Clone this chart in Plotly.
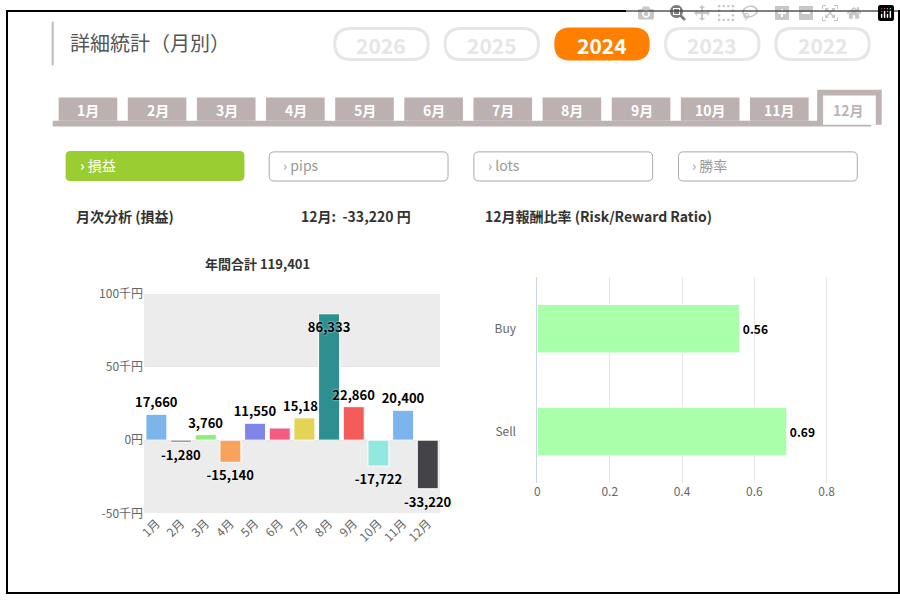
import plotly.graph_objects as go

# data
months = ["1月", "2月", "3月", "4月", "5月", "6月", "7月", "8月", "9月", "10月", "11月", "12月"]
profit = [17660, -1280, 3760, -15140, 11550, 8300, 15180, 86333, 22860, -17722, 20400, -33220]
profit_labels = ["17,660", "-1,280", "3,760", "-15,140", "11,550", "", "15,180", "86,333", "22,860", "-17,722", "20,400", "-33,220"]
bar_colors = ["#7cb5ec", "#434348", "#90ed7d", "#f7a35c", "#8085e9", "#f15c80",
              "#e4d354", "#2b908f", "#f45b5b", "#91e8e1", "#7cb5ec", "#434348"]
rr_sides = ["Sell", "Buy"]
rr_values = [0.69, 0.56]
years = ["2026", "2025", "2024", "2023", "2022"]
active_year = "2024"
active_month = "12月"

W, H = 900, 601
FONT = "Noto Sans CJK JP"


def px(x):
    return x / W


def py(y):
    return 1 - y / H


def rrect(x0, y0, x1, y1, r):
    pts = (f"M {px(x0 + r)} {py(y0)} L {px(x1 - r)} {py(y0)} Q {px(x1)} {py(y0)} {px(x1)} {py(y0 + r)} "
           f"L {px(x1)} {py(y1 - r)} Q {px(x1)} {py(y1)} {px(x1 - r)} {py(y1)} "
           f"L {px(x0 + r)} {py(y1)} Q {px(x0)} {py(y1)} {px(x0)} {py(y1 - r)} "
           f"L {px(x0)} {py(y0 + r)} Q {px(x0)} {py(y0)} {px(x0 + r)} {py(y0)} Z")
    return pts


shapes = []
annotations = []


def text(x, y, s, size=13, color="#333", bold=False, xanchor="left"):
    annotations.append(dict(x=px(x), y=py(y), xref="paper", yref="paper", text=f"<b>{s}</b>" if bold else s,
                            showarrow=False, xanchor=xanchor, yanchor="middle",
                            font=dict(size=size, color=color, family=FONT)))


def box(x0, y0, x1, y1, fill, line=None, lw=1, r=0):
    if r:
        shapes.append(dict(type="path", path=rrect(x0, y0, x1, y1, r), xref="paper", yref="paper",
                           fillcolor=fill, line=dict(color=line or fill, width=lw if line else 0), layer="below"))
    else:
        shapes.append(dict(type="rect", x0=px(x0), x1=px(x1), y0=py(y0), y1=py(y1), xref="paper", yref="paper",
                           fillcolor=fill, line=dict(color=line or fill, width=lw if line else 0), layer="below"))


# outer frame
box(1, 1, 899, 600, "rgba(0,0,0,0)", "#000", 2)

# title
box(46, 12, 48, 57, "#bbbbbb")
text(62, 33, "詳細統計（月別）", 20, "#555")

# year pills
for i, yr in enumerate(years):
    cx = 378 + i * 111
    if yr == active_year:
        box(cx - 48, 18, cx + 48, 52, "#ff8000", r=16)
        text(cx, 36, yr, 21, "white", True, "center")
    else:
        box(cx - 47, 19, cx + 47, 51, "white", "#e6e6e6", 3, r=16)
        text(cx, 36, yr, 21, "#e6e6e6", True, "center")

# month tabs
box(47, 114, 871, 120, "#bdb3b3")
for i, m in enumerate(months):
    x0 = 53 + i * 69.6
    if m == active_month:
        box(x0 - 2, 82, x0 + 63, 118, "#bdb3b3")
        box(x0 + 4, 88, x0 + 57, 118, "white")
        text(x0 + 30, 103, m, 14, "#bdb3b3", True, "center")
    else:
        box(x0, 90, x0 + 59, 114, "#bcb0b0")
        text(x0 + 30, 103, m, 14, "white", True, "center")

# option buttons
btns = [("› 損益", 60, True), ("› pips", 265, False), ("› lots", 471, False), ("› 勝率", 677, False)]
for label, x0, on in btns:
    if on:
        box(x0, 145, x0 + 180, 176, "#9acd32", r=5)
        text(x0 + 12, 160, f"<b>›</b> 損益", 14, "white")
    else:
        box(x0, 146, x0 + 180, 176, "white", "#aaaaaa", 1, r=5)
        text(x0 + 12, 160, label, 14, "#999")

# headings
text(68, 212, "月次分析 (損益)", 14, "#333", True)
text(295, 212, "12月:  -33,220 円", 14, "#333", True)
text(480, 212, "12月報酬比率 (Risk/Reward Ratio)", 14, "#333", True)
text(253, 261, "年間合計 119,401", 13, "#333", True, "center")

# alternating plot bands
shapes.append(dict(type="rect", xref="x domain", yref="y", x0=0, x1=1, y0=50000, y1=100000,
                   fillcolor="#ececec", line_width=0, layer="below"))
shapes.append(dict(type="rect", xref="x domain", yref="y", x0=0, x1=1, y0=-50000, y1=0,
                   fillcolor="#ececec", line_width=0, layer="below"))

fig = go.Figure()
fig.add_trace(go.Bar(
    x=months, y=profit, marker=dict(color=bar_colors, line=dict(color="white", width=1)),
    text=profit_labels, textposition=["inside" if m == "8月" else "outside" for m in months],
    insidetextanchor="end", constraintext="none", cliponaxis=False, textangle=0,
    textfont=dict(size=13, color="black", family=FONT, weight="bold", shadow="0px 0px 2px white"),
    xaxis="x", yaxis="y", width=0.85, showlegend=False))

fig.add_trace(go.Bar(
    x=rr_values, y=rr_sides, orientation="h",
    marker=dict(color="#aaffaa", line=dict(color="white", width=1)), width=0.47,
    text=[f"{v:.2f}" for v in rr_values], textposition="outside", cliponaxis=False,
    textfont=dict(size=12, color="black", family=FONT, weight="bold"),
    xaxis="x2", yaxis="y2", showlegend=False))

fig.update_layout(
    width=W, height=H, margin=dict(l=0, r=0, t=0, b=0),
    paper_bgcolor="white", plot_bgcolor="rgba(0,0,0,0)",
    font=dict(family=FONT, color="#666"),
    shapes=shapes, annotations=annotations, bargap=0.15,
    xaxis=dict(domain=[px(139), px(437)], anchor="y", tickangle=-45, tickfont=dict(size=12, color="#666"),
               showline=False, ticks=""),
    yaxis=dict(domain=[py(518), py(292)], range=[-50000, 100000], tickvals=[-50000, 0, 50000, 100000],
               ticktext=["-50千円", "0円", "50千円", "100千円"], tickfont=dict(size=12, color="#666"),
               showgrid=True, gridcolor="#e6e6e6", zeroline=False, anchor="x"),
    xaxis2=dict(domain=[px(535), px(837)], range=[0, 0.83], tickvals=[0, 0.2, 0.4, 0.6, 0.8],
                tickfont=dict(size=12, color="#666"), showgrid=True, gridcolor="#e6e6e6", zeroline=False,
                anchor="y2"),
    yaxis2=dict(domain=[py(487), py(275)], tickfont=dict(size=12, color="#666"), anchor="x2",
                showline=True, linecolor="#ccd6eb", ticks="", ticklabelstandoff=18),
)

fig.write_html("out.html")

# drop the default page margin so the figure sits at the window origin
with open("out.html", encoding="utf-8") as f:
    page = f.read()
page = page.replace("<head>", "<head><style>html,body{margin:0;padding:0;overflow:hidden}</style>", 1)
with open("out.html", "w", encoding="utf-8") as f:
    f.write(page)
